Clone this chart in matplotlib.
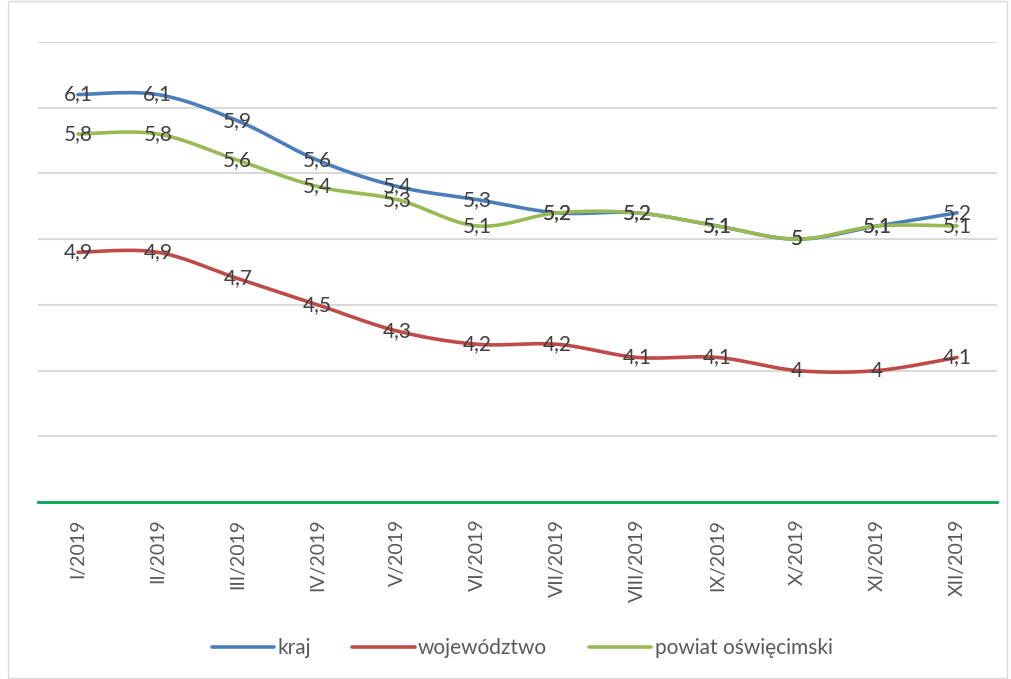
import numpy as np
import matplotlib
matplotlib.use("Agg")
import matplotlib.pyplot as plt
from matplotlib.patches import Rectangle

plt.rcParams['font.family'] = ['Lato', 'DejaVu Sans']

# dane
months = ['I/2019', 'II/2019', 'III/2019', 'IV/2019', 'V/2019', 'VI/2019',
          'VII/2019', 'VIII/2019', 'IX/2019', 'X/2019', 'XI/2019', 'XII/2019']
kraj = [6.1, 6.1, 5.9, 5.6, 5.4, 5.3, 5.2, 5.2, 5.1, 5.0, 5.1, 5.2]
wojewodztwo = [4.9, 4.9, 4.7, 4.5, 4.3, 4.2, 4.2, 4.1, 4.1, 4.0, 4.0, 4.1]
powiat = [5.8, 5.8, 5.6, 5.4, 5.3, 5.1, 5.2, 5.2, 5.1, 5.0, 5.1, 5.1]

series = [
    ('kraj', kraj, '#4A7EBB'),
    ('województwo', wojewodztwo, '#BE4B48'),
    ('powiat oświęcimski', powiat, '#98B954'),
]


def smooth(xs, ys, n=30):
    # wygładzanie jak w Excelu (Bezier z punktami kontrolnymi Catmull-Rom)
    pts = np.column_stack([xs, ys]).astype(float)
    out = []
    for i in range(len(pts) - 1):
        p0 = pts[i - 1] if i > 0 else pts[i]
        p1 = pts[i]
        p2 = pts[i + 1]
        p3 = pts[i + 2] if i + 2 < len(pts) else pts[i + 1]
        c1 = p1 + (p2 - p0) / 6
        c2 = p2 - (p3 - p1) / 6
        t = np.linspace(0, 1, n)[:, None]
        seg = ((1 - t) ** 3) * p1 + 3 * ((1 - t) ** 2) * t * c1 + 3 * (1 - t) * t ** 2 * c2 + t ** 3 * p2
        out.append(seg if i == 0 else seg[1:])
    out = np.vstack(out)
    return out[:, 0], out[:, 1]


fig = plt.figure(figsize=(10.11, 6.79), dpi=100)
ax = fig.add_axes([38 / 1011, 1 - 502 / 679, (997 - 38) / 1011, (502 - 42) / 679])

x = np.arange(len(months))
for name, vals, col in series:
    sx, sy = smooth(x, vals)
    ax.plot(sx, sy, color=col, lw=2.6, solid_capstyle='round', label=name, zorder=3)

for name, vals, col in series:
    for xi, v in zip(x, vals):
        txt = f'{v:g}'.replace('.', ',')
        ax.text(xi, v, txt, ha='center', va='center', fontsize=15,
                color='#404040', zorder=4)

ax.set_xlim(-0.5, 11.5)
ax.set_ylim(3, 6.5)
ax.set_yticks(np.arange(3.5, 6.51, 0.5))
ax.yaxis.grid(True, color='#D9D9D9', lw=1.5)
ax.set_axisbelow(True)
ax.tick_params(axis='y', length=0, labelleft=False)
ax.set_xticks(x)
ax.set_xticklabels(months, rotation=90, fontsize=14, color='#595959')
ax.tick_params(axis='x', length=0, pad=12)
for s in ['top', 'right', 'left']:
    ax.spines[s].set_visible(False)
ax.spines['bottom'].set_color('#00A550')
ax.spines['bottom'].set_linewidth(2)

leg = fig.legend(loc='center', bbox_to_anchor=(522 / 1011, 1 - 648 / 679), ncol=3,
                 frameon=False, fontsize=15, handlelength=3.0, handletextpad=0.15,
                 columnspacing=2.0, labelcolor='#595959')

fig.patches.append(Rectangle((8 / 1011, 0.002), 999 / 1011, 0.996, transform=fig.transFigure,
                             fill=False, edgecolor='#D9D9D9', lw=1))

fig.savefig('out.png', dpi=100)
